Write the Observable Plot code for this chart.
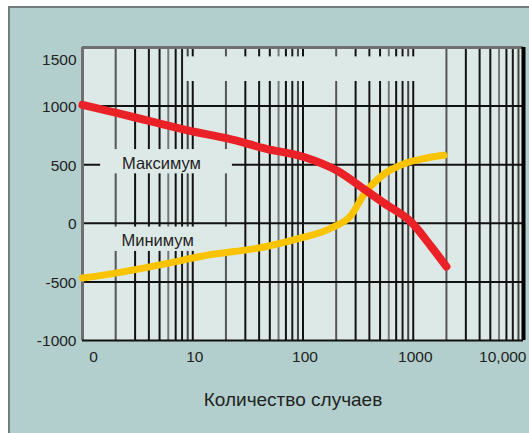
<!DOCTYPE html>
<html>
<head>
<meta charset="utf-8">
<script src="https://cdn.jsdelivr.net/npm/d3@7"></script>
<script src="https://cdn.jsdelivr.net/npm/@observablehq/plot@0.6"></script>
<style>
  html, body { margin: 0; padding: 0; background: #ffffff; width: 529px; height: 433px; overflow: hidden; }
  #panel { position: absolute; left: 8px; top: 6px; right: 0; bottom: 0; background: #b2cfcd;
           border-left: 2px solid #737b7c; border-top: 2px solid #737b7c; }
  #chart { position: absolute; left: 0; top: 0; }
  #chart svg { background: transparent; }
</style>
</head>
<body>
<div id="panel"></div>
<div id="chart"></div>
<script>
// ---- data ----
const xTickValues = [1, 10, 100, 1000, 10000];
const xTickLabels = ["0", "10", "100", "1000", "10,000"];
const yTickValues = [-1000, -500, 0, 500, 1000, 1500];
const yTickLabels = ["-1000", "-500", "0", "500", "1000", "1500"];
const yGridValues = [-500, 0, 500, 1000];

// Максимум (red)
const maxCount = [1, 2.08, 4.1, 9.0, 20.6, 45.6, 102, 205, 360, 547, 960, 1460, 2000];
const maxValue = [1010, 940, 871, 793, 724, 638, 566, 448, 290, 170, 10, -200, -370];
// Минимум (yellow)
const minCount = [1, 2.0, 5.9, 11.7, 45.6, 89, 181, 274, 360, 547, 827, 1300, 1900];
const minValue = [-467, -425, -342, -283, -200, -133, -40, 70, 250, 422, 509, 555, 580];

const seriesLabels = [
  {text: "Максимум", n: 5.2, v: 510},
  {text: "Минимум", n: 4.8, v: -150}
];

// log grid: decades x multipliers
const decades = [1, 10, 100, 1000];
const multipliers = [1, 2, 3, 4, 5, 6, 7, 8, 9];
const multiplierShade = ["#111", "#555", "#111", "#151515", "#111", "#777", "#111", "#1a1a1a", "#444"];

// areas where the grid is interrupted (label boxes and the top band)
const gridGaps = [
  {x1: 8.4, x2: 1070, y1: 1210, y2: 1420},
  {x1: 1.46, x2: 22.9, y1: 422, y2: 629},
  {x1: 1.2, x2: 22.0, y1: -240, y2: -32}
];

// ---- build tables ----
const maxData = maxCount.map((n, i) => ({n, v: maxValue[i]}));
const minData = minCount.map((n, i) => ({n, v: minValue[i]}));
const vGrid = [];
decades.forEach(d => multipliers.forEach((m, i) => vGrid.push({n: d * m, c: multiplierShade[i]})));
vGrid.push({n: 10000, c: "#111"});
const xTicks = xTickValues.map((n, i) => ({n, label: xTickLabels[i]}));
const yTicks = yTickValues.map((v, i) => ({v, label: yTickLabels[i]}));

const font = "'Liberation Sans', Arial, Helvetica, sans-serif";
const bg = "#dde9e6";

const chart = Plot.plot({
  width: 529,
  height: 433,
  marginLeft: 82,
  marginRight: 6,
  marginTop: 47,
  marginBottom: 93,
  style: {fontFamily: font, background: "transparent", overflow: "visible"},
  x: {type: "log", domain: [1, 10000], axis: null},
  y: {domain: [-1000, 1500], axis: null},
  marks: [
    Plot.frame({fill: bg, stroke: null}),
    Plot.ruleX(vGrid, {x: "n", stroke: "c", strokeWidth: 2}),
    Plot.ruleY(yGridValues, {stroke: "#111", strokeWidth: 2}),
    Plot.rect(gridGaps, {x1: "x1", x2: "x2", y1: "y1", y2: "y2", fill: bg}),
    // frame edges
    Plot.ruleX([1], {stroke: "#6f6f6f", strokeWidth: 3}),
    Plot.ruleY([1500], {stroke: "#6f6f6f", strokeWidth: 3}),
    Plot.ruleY([-1000], {stroke: "#111", strokeWidth: 2}),
    Plot.ruleX([10000], {stroke: "#000", strokeWidth: 4}),
    // curves
    Plot.line(minData, {x: "n", y: "v", stroke: "#f9c300", strokeWidth: 7, curve: "monotone-x"}),
    Plot.line(maxData, {x: "n", y: "v", stroke: "#ea2127", strokeWidth: 8, curve: "monotone-x"}),
    // series labels
    Plot.text(seriesLabels, {x: "n", y: "v", text: "text", fontSize: 16.5, fill: "#222"}),
    // y tick labels
    Plot.text(yTicks.filter(d => d.v < 1500), {x: 1, y: "v", text: "label", textAnchor: "end", dx: -6, dy: 1, fontSize: 15.5, fill: "#222"}),
    Plot.text(yTicks.filter(d => d.v === 1500), {x: 1, y: "v", text: "label", textAnchor: "end", dx: -6, dy: 13, fontSize: 15.5, fill: "#222"}),
    // x tick labels
    Plot.text(xTicks.filter(d => d.n === 1), {x: "n", y: -1000, text: "label", dx: 11, dy: 17, fontSize: 15.5, fill: "#222"}),
    Plot.text(xTicks.filter(d => d.n > 1 && d.n < 10000), {x: "n", y: -1000, text: "label", dx: 2, dy: 17, fontSize: 15.5, fill: "#222"}),
    Plot.text(xTicks.filter(d => d.n === 10000), {x: "n", y: -1000, text: "label", textAnchor: "end", dx: 3, dy: 17, fontSize: 15.5, fill: "#222"}),
    // axis title
    Plot.text(["Количество случаев"], {frameAnchor: "bottom", dx: -10, dy: 65, fontSize: 19, fill: "#222"})
  ]
});
document.getElementById("chart").append(chart);
</script>
</body>
</html>
